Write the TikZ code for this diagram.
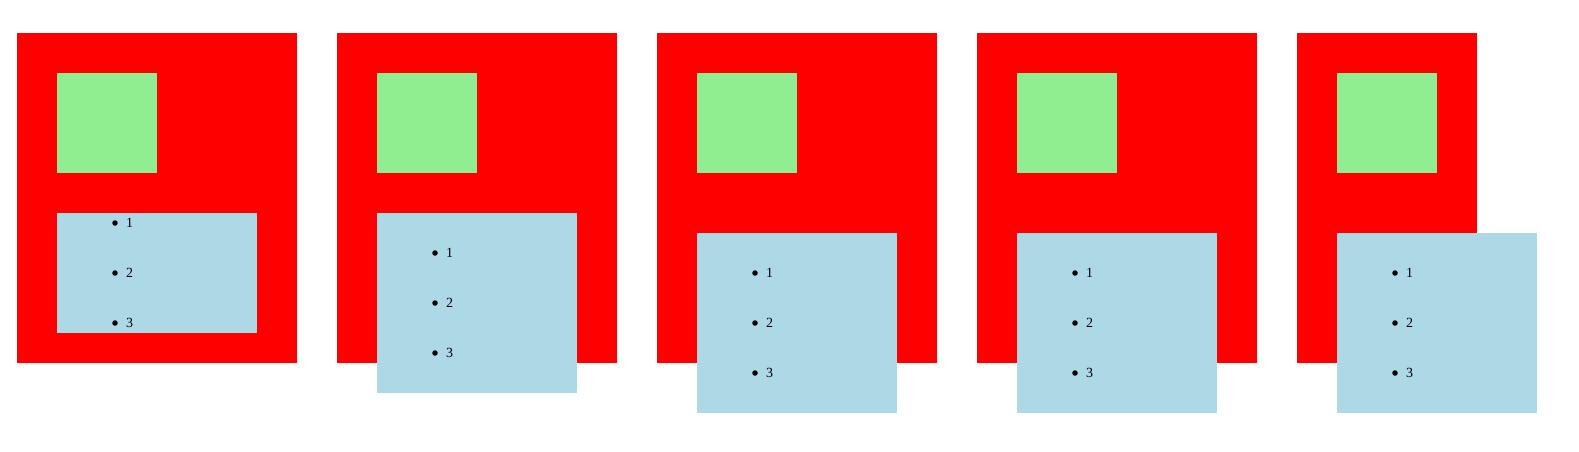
\documentclass[tikz,border=0pt]{standalone}
\usepackage{fontspec}
\setmainfont{Liberation Serif}
\definecolor{boxred}{HTML}{FF0000}
\definecolor{boxgreen}{HTML}{90EE90}
\definecolor{boxblue}{HTML}{ADD8E6}
\begin{document}
\begin{tikzpicture}[x=1pt,y=-1pt,
  outerbox/.style={fill=boxred,draw=none,inner sep=0pt,outer sep=0pt,anchor=north west,minimum height=330pt},
  greenbox/.style={fill=boxgreen,draw=none,inner sep=0pt,outer sep=0pt,anchor=north west,minimum width=100pt,minimum height=100pt},
  bluebox/.style={fill=boxblue,draw=none,inner sep=0pt,outer sep=0pt,anchor=north west,minimum width=200pt},
  bulletdot/.style={circle,fill=black,draw=none,inner sep=0pt,minimum size=5.5pt},
  itemtext/.style={inner sep=0pt,anchor=west,font=\fontsize{14}{16}\selectfont}]
\useasboundingbox (0,0) rectangle (1579,451);
\foreach \i/\w/\bt/\bh/\iy in {0/280/213/120/223, 1/280/213/180/253, 2/280/233/180/273, 3/280/233/180/273, 4/180/233/180/273}{
  \pgfmathsetmacro{\xo}{17+320*\i}
  \pgfmathsetmacro{\xi}{\xo+40}
  \node[outerbox,minimum width=\w pt] (r\i) at (\xo,33) {};
  \node[greenbox] (g\i) at (\xi,73) {};
  \node[bluebox,minimum height=\bh pt] (b\i) at (\xi,\bt) {};
  \foreach \j in {1,2,3}{
    \pgfmathsetmacro{\yy}{\iy+50*(\j-1)}
    \node[bulletdot] (d\i\j) at (\xi+58,\yy) {};
    \node[itemtext] (t\i\j) at (\xi+69,\yy) {\j};
  }
}
\end{tikzpicture}
\end{document}
